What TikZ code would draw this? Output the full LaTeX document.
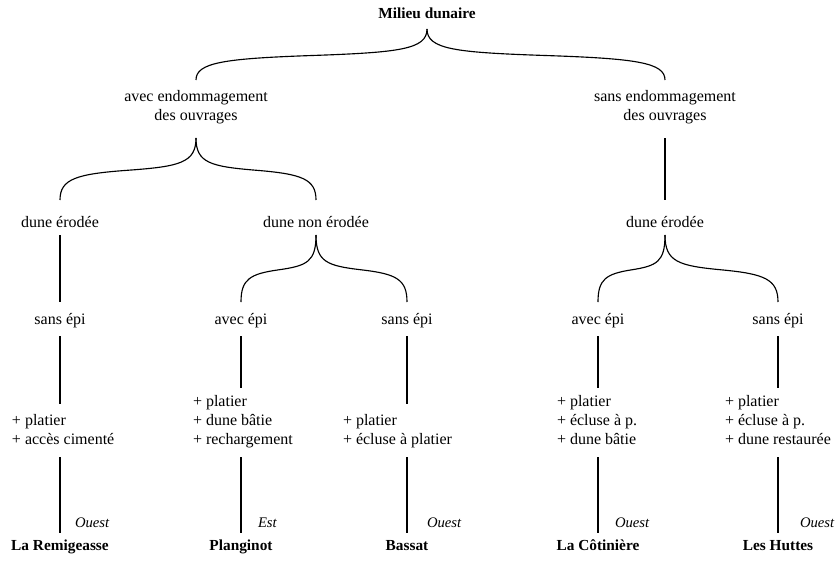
\documentclass[tikz,border=0pt]{standalone}
\usepackage{fontspec}
\setmainfont{Liberation Serif}
\usetikzlibrary{calc}
\tikzset{
  every node/.style={inner sep=0pt, outer sep=0pt, font=\fontsize{12}{13.9}\selectfont},
  lab/.style={anchor=base, align=center},
  lvlone/.style={lab, text height=30pt, text depth=13.5pt},
  lvltwo/.style={lab, text height=20.25pt, text depth=6pt},
  lvlthree/.style={lab, text height=16.5pt, text depth=9pt},
  blk/.style={anchor=base west, align=left, text depth=10.1pt},
  blktwo/.style={blk, text height=30pt},
  blkthree/.style={blk, text height=42pt},
  site/.style={anchor=base, text height=12.75pt, text depth=3pt, font=\fontsize{11.5}{13.9}\selectfont\bfseries},
  dirlab/.style={anchor=base west, font=\fontsize{11}{13.9}\selectfont\itshape},
  link/.style={line width=0.85pt, black},
  brace/.style={to path={let \p1=(\tikztostart), \p2=(\tikztotarget) in
     .. controls (\x1,{\y1+0.4*(\y2-\y1)}) and ({\x1+0.12*(\x2-\x1)},{\y1+0.46*(\y2-\y1)})
     .. ({0.5*(\x1+\x2)},{\y1+0.52*(\y2-\y1)})
     .. controls ({\x2-0.12*(\x2-\x1)},{\y1+0.58*(\y2-\y1)}) and (\x2,{\y1+0.66*(\y2-\y1)})
     .. (\tikztotarget)}},
}
\begin{document}
\begin{tikzpicture}[x=0.75pt,y=-0.75pt]
\useasboundingbox (0,0) rectangle (839,565);
% root
\node[lab, font=\fontsize{11.5}{13.9}\selectfont\bfseries, text height=7pt, text depth=8.25pt] (root) at (427,18) {Milieu dunaire};
% level 1 (anchored at the baseline of the last line)
\node[lvlone] (avec) at (196,120) {avec endommagement\\des ouvrages};
\node[lvlone] (sans) at (665,120) {sans endommagement\\des ouvrages};
% level 2
\node[lvltwo] (de1) at (60,227) {dune érodée};
\node[lvltwo] (dne) at (316,227) {dune non érodée};
\node[lvltwo] (de2) at (665,227) {dune érodée};
% level 3
\node[lvlthree] (s1) at (60,324) {sans épi};
\node[lvlthree] (a1) at (241,324) {avec épi};
\node[lvlthree] (s2) at (407,324) {sans épi};
\node[lvlthree] (a2) at (598,324) {avec épi};
\node[lvlthree] (s3) at (778,324) {sans épi};
% level 4 (anchored at the baseline of the last line)
\node[blktwo] (b1) at (12,444) {+ platier\\+ accès cimenté};
\node[blkthree] (b2) at (193,444) {+ platier\\+ dune bâtie\\+ rechargement};
\node[blktwo] (b3) at (343,444) {+ platier\\+ écluse à platier};
\node[blkthree] (b4) at (557,444) {+ platier\\+ écluse à p.\\+ dune bâtie};
\node[blkthree] (b5) at (725,444) {+ platier\\+ écluse à p.\\+ dune restaurée};
% sites
\node[site] (n1) at (60,550) {La Remigeasse};
\node[site] (n2) at (241,550) {Planginot};
\node[site] (n3) at (407,550) {Bassat};
\node[site] (n4) at (598,550) {La Côtinière};
\node[site] (n5) at (778,550) {Les Huttes};
% orientation
\node[dirlab] (o1) at (75,527) {Ouest};
\node[dirlab] (o2) at (258,527) {Est};
\node[dirlab] (o3) at (427,527) {Ouest};
\node[dirlab] (o4) at (615,527) {Ouest};
\node[dirlab] (o5) at (800,527) {Ouest};
% connectors
\draw[link] (root.south) to[brace] (avec.north);
\draw[link] (root.south) to[brace] (sans.north);
\draw[link] (avec.south) to[brace] (de1.north);
\draw[link] (avec.south) to[brace] (dne.north);
\draw[link] (sans.south) -- (de2.north);
\draw[link] (de1.south) -- (s1.north);
\draw[link] (dne.south) to[brace] (a1.north);
\draw[link] (dne.south) to[brace] (s2.north);
\draw[link] (de2.south) to[brace] (a2.north);
\draw[link] (de2.south) to[brace] (s3.north);
\draw[link] (s1.south) -- (s1.south |- b1.north);
\draw[link] (a1.south) -- (a1.south |- b2.north);
\draw[link] (s2.south) -- (s2.south |- b3.north);
\draw[link] (a2.south) -- (a2.south |- b4.north);
\draw[link] (s3.south) -- (s3.south |- b5.north);
\draw[link] (n1.north |- b1.south) -- (n1.north);
\draw[link] (n2.north |- b2.south) -- (n2.north);
\draw[link] (n3.north |- b3.south) -- (n3.north);
\draw[link] (n4.north |- b4.south) -- (n4.north);
\draw[link] (n5.north |- b5.south) -- (n5.north);
\end{tikzpicture}
\end{document}
